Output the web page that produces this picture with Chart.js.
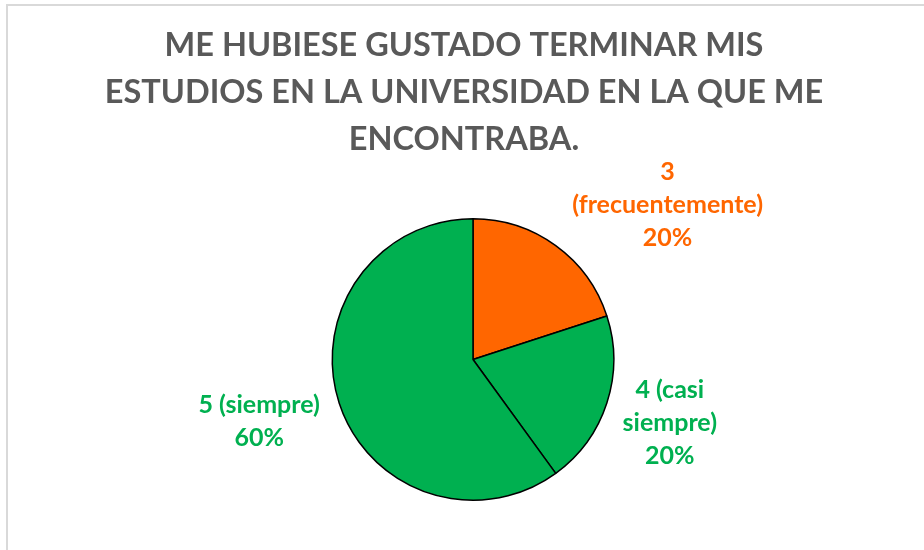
<!DOCTYPE html>
<html>
<head>
<meta charset="utf-8">
<script src="https://cdn.jsdelivr.net/npm/chart.js@4"></script>
<style>
  body { margin: 0; background: #fff; }
  #wrap { width: 924px; height: 550px; }
</style>
</head>
<body>
<div id="wrap"><canvas id="myChart" width="924" height="550"></canvas></div>
<script>
var titleLines = ["ME HUBIESE GUSTADO TERMINAR MIS", "ESTUDIOS EN LA UNIVERSIDAD EN LA QUE ME", "ENCONTRABA."];
var categories = ["3 (frecuentemente)", "4 (casi siempre)", "5 (siempre)"];
var labelLines = [["3", "(frecuentemente)"], ["4 (casi", "siempre)"], ["5 (siempre)"]];
var values = [20, 20, 60];
var sliceColors = ["#FF6600", "#00B050", "#00B050"];

// grey frame of the chart object
const frame = {
  id: "frame",
  beforeDraw(chart) {
    const ctx = chart.ctx;
    ctx.save();
    ctx.fillStyle = "#fff";
    ctx.fillRect(0, 0, chart.width, chart.height);
    ctx.strokeStyle = "#d9d9d9";
    ctx.lineWidth = 2;
    ctx.beginPath();
    ctx.moveTo(chart.width, 5);
    ctx.lineTo(7, 5);
    ctx.lineTo(7, chart.height);
    ctx.stroke();
    ctx.restore();
  }
};

// title drawn by hand so the pie can sit off-centre
const bigTitle = {
  id: "bigTitle",
  afterDraw(chart, args, opts) {
    const ctx = chart.ctx;
    ctx.save();
    ctx.font = "bold 32.5px Lato";
    ctx.fillStyle = "#595959";
    ctx.textAlign = "center";
    ctx.textBaseline = "middle";
    titleLines.forEach(function(t, i) {
      ctx.fillText(t, opts.x, opts.y + i * opts.step);
    });
    ctx.restore();
  }
};

const sliceLabels = {
  id: "sliceLabels",
  afterDatasetsDraw(chart, args, opts) {
    const ctx = chart.ctx;
    const meta = chart.getDatasetMeta(0);
    const total = values.reduce(function(a, b) { return a + b; }, 0);
    ctx.save();
    ctx.font = "bold 25px Lato";
    ctx.textAlign = "center";
    ctx.textBaseline = "middle";
    meta.data.forEach(function(arc, i) {
      const p = arc.getProps(["x", "y", "startAngle", "endAngle", "outerRadius"], true);
      const mid = (p.startAngle + p.endAngle) / 2;
      const d = p.outerRadius * opts.distance;
      const sh = opts.shift[i];
      const cx = p.x + Math.cos(mid) * d + sh[0];
      const cy = p.y + Math.sin(mid) * d + sh[1];
      const lines = labelLines[i].concat([Math.round(values[i] / total * 100) + "%"]);
      const top = cy - (lines.length - 1) * opts.step / 2;
      ctx.fillStyle = sliceColors[i];
      lines.forEach(function(t, j) {
        ctx.fillText(t, cx, top + j * opts.step);
      });
    });
    ctx.restore();
  }
};

new Chart("myChart", {
  type: "pie",
  data: {
    labels: categories,
    datasets: [{
      data: values,
      backgroundColor: sliceColors,
      borderColor: "#000",
      borderWidth: 1.5,
      hoverOffset: 0
    }]
  },
  options: {
    responsive: false,
    animation: false,
    events: [],
    layout: { padding: { top: 218, bottom: 49, left: 300, right: 278 } },
    plugins: {
      legend: { display: false },
      title: { display: false },
      tooltip: { enabled: false },
      bigTitle: { x: 464, y: 46, step: 47 },
      sliceLabels: { distance: 1.47, step: 33, shift: [[73, 13], [0, 0], [-17, -2]] }
    }
  },
  plugins: [frame, bigTitle, sliceLabels]
});
</script>
</body>
</html>
